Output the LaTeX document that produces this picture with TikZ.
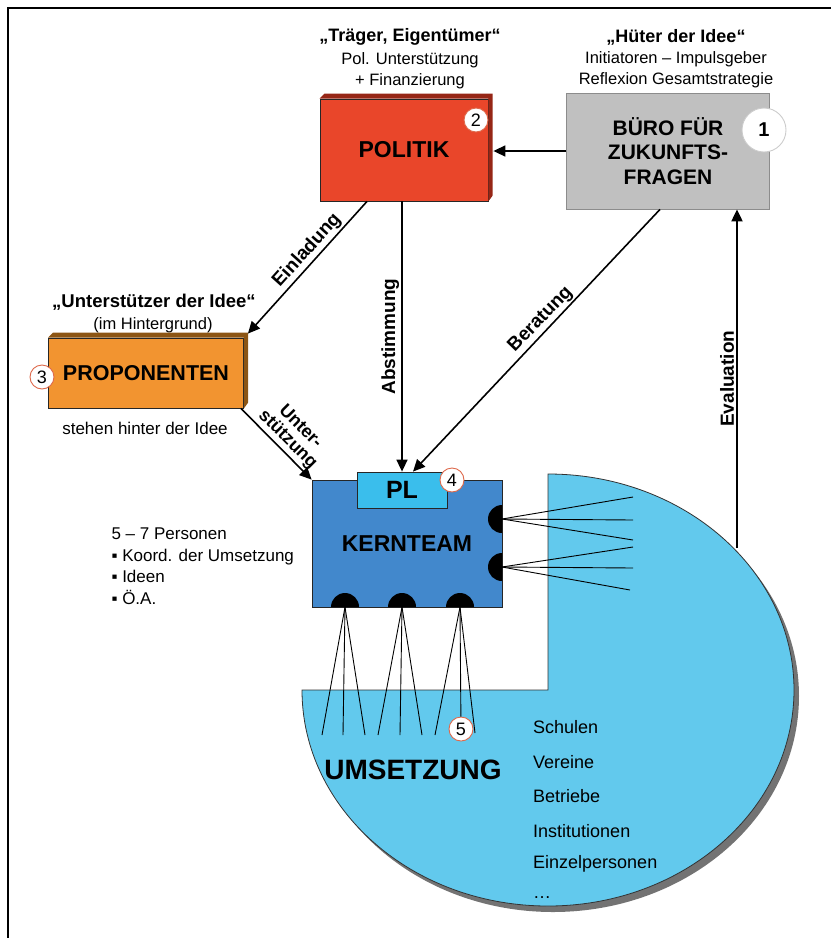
\documentclass[tikz,border=0pt]{standalone}
\usepackage{fontspec}
\setmainfont{Liberation Sans}
\usetikzlibrary{arrows.meta,positioning,calc}

\definecolor{polred}{RGB}{233,70,42}
\definecolor{poldark}{RGB}{150,38,22}
\definecolor{proporange}{RGB}{242,148,48}
\definecolor{propdark}{RGB}{140,85,20}
\definecolor{buerogrey}{RGB}{192,192,192}
\definecolor{kernblue}{RGB}{66,136,204}
\definecolor{plcyan}{RGB}{58,190,236}
\definecolor{umsblue}{RGB}{98,201,237}
\definecolor{numring}{RGB}{222,105,75}

\begin{document}
\begin{tikzpicture}[x=1pt,y=-1pt]
	\tikzset{
		box/.style={draw=black!85,line width=0.8pt,inner sep=0pt,align=center,font=\bfseries\fontsize{23}{27}\selectfont},
		num/.style={circle,draw=numring,fill=white,line width=0.9pt,inner sep=0pt,minimum size=24pt,font=\fontsize{18}{18}\selectfont},
		head/.style={font=\bfseries\fontsize{18}{21}\selectfont},
		sub/.style={font=\fontsize{16.5}{21}\selectfont,align=center},
		flow/.style={-{Triangle[length=12pt,width=11pt]},line width=1.6pt},
		tag/.style={font=\bfseries\fontsize{19}{20}\selectfont,inner sep=2pt},
		fan/.style={line width=0.9pt},
		item/.style={font=\fontsize{18}{20}\selectfont,anchor=west,inner sep=0pt},
	}
	\useasboundingbox (0,0) rectangle (831,938);
	\draw[line width=2.6pt] (8,938) -- (8,8) -- (831,8);

	% umsetzung
	\fill[black!55,xshift=5pt,yshift=-6pt] (302,690) arc[start angle=180,end angle=-90,x radius=246,y radius=216] -- (548,690) -- cycle;
	\filldraw[fill=umsblue,draw=black!80,line width=0.8pt] (302,690) arc[start angle=180,end angle=-90,x radius=246,y radius=216] -- (548,690) -- cycle;

	% headings
	\node[head] (traeger) at (410,37) {„Träger, Eigentümer“};
	\node[sub,below=0pt of traeger] (traegersub) {Pol. Unterstützung\\+ Finanzierung};
	\node[head] (hueter) at (676,37) {„Hüter der Idee“};
	\node[sub,below=0pt of hueter] (huetersub) {Initiatoren – Impulsgeber\\Reflexion Gesamtstrategie};
	\node[head,font=\bfseries\fontsize{18.5}{21}\selectfont] (stuetzer) at (154,302) {„Unterstützer der Idee“};
	\node[sub] (hinter) at (153,325) {(im Hintergrund)};
	\node[sub,font=\fontsize{17}{20}\selectfont] (idee) at (145,428) {stehen hinter der Idee};

	% boxes
	\node[box,fill=polred,minimum width=168pt,minimum height=102pt] (pol) at (404,150) {POLITIK};
	\fill[poldark] (pol.north west) -- ++(5,-5) -- ++(168,0) -- ++(0,102) -- (pol.south east) -- (pol.north east) -- cycle;
	\node[num] (n2) at (476,120) {2};

	\node[box,fill=buerogrey,draw=black!45,minimum width=203pt,minimum height=116pt,font=\bfseries\fontsize{21}{24.5}\selectfont] (buero) at (668,151) {BÜRO FÜR\\ZUKUNFTS-\\FRAGEN};
	\node[num,draw=black!20,minimum size=44pt,font=\bfseries\fontsize{20}{20}\selectfont] (n1) at (764,130) {1};

	\node[box,fill=proporange,minimum width=195pt,minimum height=70pt,font=\bfseries\fontsize{21.5}{24}\selectfont] (prop) at (146,373) {PROPONENTEN};
	\fill[propdark] (prop.north west) -- ++(5,-5) -- ++(195,0) -- ++(0,70) -- (prop.south east) -- (prop.north east) -- cycle;
	\node[num] (n3) at (42,377) {3};

	\node[box,fill=kernblue,minimum width=190pt,minimum height=127pt] (kern) at (407,543.5) {KERNTEAM};
	\node[box,fill=plcyan,minimum width=90pt,minimum height=36pt,font=\bfseries\fontsize{25}{25}\selectfont] (pl) at (402,490) {PL};
	\node[num] (n4) at (452,480) {4};

	% contacts of the core team
	\coordinate (d1) at (345,607);
	\coordinate (d2) at (402,607);
	\coordinate (d3) at (460,607);
	\coordinate (r1) at (502,519);
	\coordinate (r2) at (502,567);
	\node[num] (n5) at (461,729) {5};
	\foreach \dx in {-23,-2,20} \draw[fan] (d1) -- ++(\dx,128);
	\foreach \dx in {-24,-2,20} \draw[fan] (d2) -- ++(\dx,128);
	\foreach \dx/\dy in {-25/128,15/126} \draw[fan] (d3) -- ++(\dx,\dy);
	\draw[fan] (d3) -- (n5);
	\foreach \dy in {-22,1,21} \draw[fan] (r1) -- ++(131,\dy);
	\foreach \dx/\dy in {131/-20,131/1,128/23} \draw[fan] (r2) -- ++(\dx,\dy);
	\foreach \d in {d1,d2,d3} \fill (\d) ++(-14,0) arc[start angle=180,end angle=360,radius=14] -- cycle;
	\foreach \d in {r1,r2} \fill (\d) ++(0,14) arc[start angle=90,end angle=270,radius=14] -- cycle;

	\node[anchor=west,font=\fontsize{17}{21.5}\selectfont,align=left] (tasks) at (108,566) {5 – 7 Personen\\▪ Koord. der Umsetzung\\▪ Ideen\\▪ Ö.A.};

	% umsetzung texts
	\node[font=\bfseries\fontsize{28}{30}\selectfont] (ums) at (413,770) {UMSETZUNG};
	\node[item] (schulen) at (533,727) {Schulen};
	\node[item] (vereine) at (533,762) {Vereine};
	\node[item] (betriebe) at (533,796) {Betriebe};
	\node[item] (inst) at (533,831) {Institutionen};
	\node[item] (einzel) at (533,864) {Einzelpersonen};
	\node[item] (etc) at (533,898) {\ldots};

	% arrows
	\draw[flow] (buero.west) -- ($(pol.east |- buero.west)+(5,0)$);
	\draw[flow] ($(pol.south)+(-37,0)$) -- node[pos=.43,rotate=48,above,tag] {Einladung} ($(prop.north east)+(4,-4)$);
	\draw[flow] (pol.south -| pl.north) -- node[pos=.5,rotate=90,above,tag] {Abstimmung} (pl.north);
	\draw[flow] ($(buero.south)+(-8,0)$) -- node[pos=.45,rotate=46,above,tag] {Beratung} ($(pl.north)+(11,0)$);
	\draw[flow] ($(prop.south east)+(-3,0)$) -- node[pos=.55,rotate=-45,above,tag,align=center,font=\bfseries\fontsize{18}{18}\selectfont] {Unter-\\stützung} (kern.north west);
	\coordinate (evalfoot) at (737,548);
	\draw[flow,line width=2pt] (evalfoot) -- node[pos=.5,rotate=90,above,tag] {Evaluation} (evalfoot |- buero.south);
\end{tikzpicture}
\end{document}
